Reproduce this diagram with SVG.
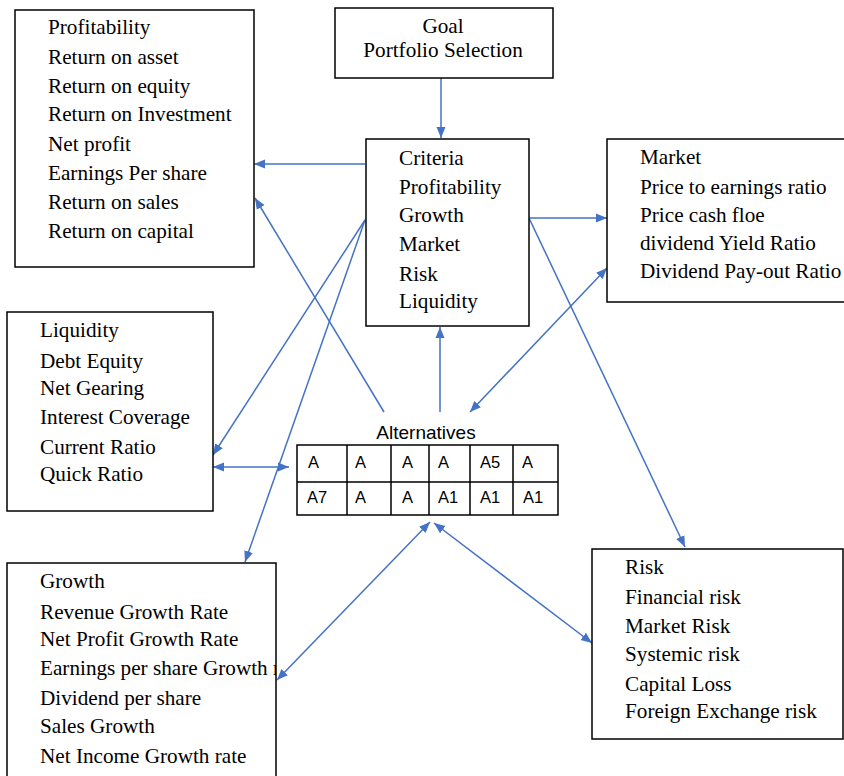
<svg xmlns="http://www.w3.org/2000/svg" width="844" height="776" viewBox="0 0 844 776">
<style>
.box{fill:#fff;stroke:#000;stroke-width:1.5}
.t{font-family:"Liberation Serif","Times New Roman",serif;font-size:21.2px;fill:#000}
.s{font-family:"Liberation Sans",Arial,sans-serif;fill:#000}
.c{fill:none;stroke:#4472C4;stroke-width:1.5}
.cell{fill:#fff;stroke:#000;stroke-width:1.5}
</style>
<defs>
<marker id="ah" markerUnits="userSpaceOnUse" markerWidth="12" markerHeight="10" refX="11" refY="5" orient="auto-start-reverse">
<path d="M0,0.5 L11,5 L0,9.5 z" fill="#4472C4"/>
</marker>
<clipPath id="gclip"><rect x="7" y="563" width="269" height="220"/></clipPath>
</defs>
<rect width="844" height="776" fill="#fff"/>

<g id="connectors">
<path class="c" d="M441,78 L441,138" marker-end="url(#ah)"/>
<path class="c" d="M365,164 L254,164" marker-end="url(#ah)"/>
<path class="c" d="M384,412 L255,198" marker-end="url(#ah)"/>
<path class="c" d="M365,220 L213,455" marker-end="url(#ah)"/>
<path class="c" d="M365,220 L245,562" marker-end="url(#ah)"/>
<path class="c" d="M213,467 L289,467" marker-start="url(#ah)" marker-end="url(#ah)"/>
<path class="c" d="M529,218 L607,218" marker-end="url(#ah)"/>
<path class="c" d="M529,218 L685,547" marker-end="url(#ah)"/>
<path class="c" d="M470,412 L607,268" marker-start="url(#ah)" marker-end="url(#ah)"/>
<path class="c" d="M440,412 L440,327" marker-end="url(#ah)"/>
<path class="c" d="M430,522 L277,680" marker-start="url(#ah)" marker-end="url(#ah)"/>
<path class="c" d="M434,523 L592,643" marker-start="url(#ah)" marker-end="url(#ah)"/>
</g>

<g id="goal">
<rect class="box" x="335" y="8" width="218" height="70"/>
<text class="t" x="443" y="33" text-anchor="middle">Goal</text>
<text class="t" x="443" y="57" text-anchor="middle">Portfolio Selection</text>
</g>

<g id="profitability">
<rect class="box" x="15" y="10" width="239" height="257"/>
<text class="t" x="48" y="34">Profitability</text>
<text class="t" x="48" y="64">Return on asset</text>
<text class="t" x="48" y="93">Return on equity</text>
<text class="t" x="48" y="121">Return on Investment</text>
<text class="t" x="48" y="151">Net profit</text>
<text class="t" x="48" y="180">Earnings Per share</text>
<text class="t" x="48" y="209">Return on sales</text>
<text class="t" x="48" y="238">Return on capital</text>
</g>

<g id="criteria">
<rect class="box" x="366" y="139" width="163" height="187"/>
<text class="t" x="399" y="165">Criteria</text>
<text class="t" x="399" y="194">Profitability</text>
<text class="t" x="399" y="222">Growth</text>
<text class="t" x="399" y="251">Market</text>
<text class="t" x="399" y="281">Risk</text>
<text class="t" x="399" y="308">Liquidity</text>
</g>

<g id="market">
<rect class="box" x="607" y="139" width="250" height="163"/>
<text class="t" x="640" y="164">Market</text>
<text class="t" x="640" y="194">Price to earnings ratio</text>
<text class="t" x="640" y="222">Price cash floe</text>
<text class="t" x="640" y="250">dividend Yield Ratio</text>
<text class="t" x="640" y="278">Dividend Pay-out Ratio</text>
</g>

<g id="liquidity">
<rect class="box" x="7" y="312" width="206" height="199"/>
<text class="t" x="40" y="337">Liquidity</text>
<text class="t" x="40" y="368">Debt Equity</text>
<text class="t" x="40" y="395">Net Gearing</text>
<text class="t" x="40" y="424">Interest Coverage</text>
<text class="t" x="40" y="454">Current Ratio</text>
<text class="t" x="40" y="481">Quick Ratio</text>
</g>

<g id="alternatives">
<text class="s" x="426" y="439" text-anchor="middle" font-size="19">Alternatives</text>
<rect class="cell" x="297" y="445" width="261" height="70"/>
<path d="M297,482 H558 M347,445 V515 M391,445 V515 M429,445 V515 M470,445 V515 M513,445 V515" stroke="#000" stroke-width="1.5" fill="none"/>
<g class="s" font-size="16.5">
<text x="308" y="468">A</text>
<text x="355" y="468">A</text>
<text x="402" y="468">A</text>
<text x="438" y="468">A</text>
<text x="480" y="468">A5</text>
<text x="522" y="468">A</text>
<text x="307" y="503">A7</text>
<text x="355" y="503">A</text>
<text x="402" y="503">A</text>
<text x="438" y="503">A1</text>
<text x="480" y="503">A1</text>
<text x="523" y="503">A1</text>
</g>
</g>

<g id="growth">
<rect class="box" x="7" y="563" width="269" height="230"/>
<g clip-path="url(#gclip)">
<text class="t" x="40" y="588">Growth</text>
<text class="t" x="40" y="619">Revenue Growth Rate</text>
<text class="t" x="40" y="646">Net Profit Growth Rate</text>
<text class="t" x="40" y="675">Earnings per share Growth rate</text>
<text class="t" x="40" y="705">Dividend per share</text>
<text class="t" x="40" y="733">Sales Growth</text>
<text class="t" x="40" y="763">Net Income Growth rate</text>
</g>
</g>

<g id="risk">
<rect class="box" x="592" y="549" width="251" height="190"/>
<text class="t" x="625" y="574">Risk</text>
<text class="t" x="625" y="604">Financial risk</text>
<text class="t" x="625" y="633">Market Risk</text>
<text class="t" x="625" y="661">Systemic risk</text>
<text class="t" x="625" y="691">Capital Loss</text>
<text class="t" x="625" y="718">Foreign Exchange risk</text>
</g>
</svg>
